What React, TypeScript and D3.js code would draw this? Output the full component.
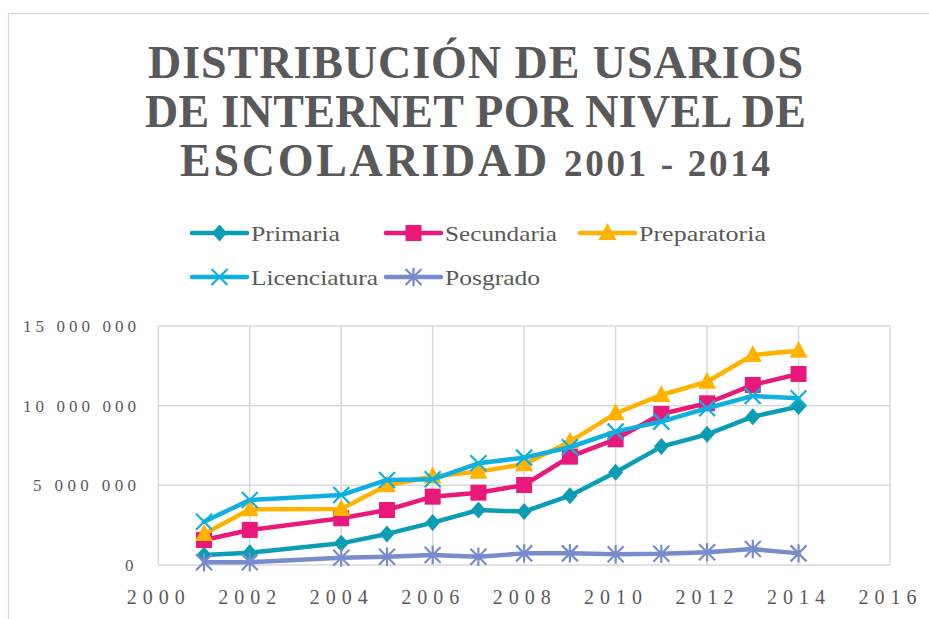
import React from 'react';
import * as d3 from 'd3';

const years = [2001, 2002, 2004, 2005, 2006, 2007, 2008, 2009, 2010, 2011, 2012, 2013, 2014];
const primaria = [630000, 770000, 1360000, 1950000, 2660000, 3450000, 3350000, 4350000, 5820000, 7430000, 8200000, 9310000, 9940000];
const secundaria = [1570000, 2200000, 2930000, 3450000, 4290000, 4540000, 5020000, 6800000, 7890000, 9480000, 10150000, 11300000, 11990000];
const preparatoria = [1950000, 3500000, 3520000, 5000000, 5550000, 5860000, 6320000, 7740000, 9520000, 10670000, 11500000, 13180000, 13450000];
const licenciatura = [2720000, 4080000, 4390000, 5340000, 5380000, 6380000, 6740000, 7390000, 8370000, 9000000, 9840000, 10610000, 10460000];
const posgrado = [170000, 170000, 460000, 520000, 630000, 520000, 730000, 730000, 670000, 700000, 800000, 1000000, 730000];

const seriesNames = ['Primaria', 'Secundaria', 'Preparatoria', 'Licenciatura', 'Posgrado'];
const seriesColors = ['#0B9DB4', '#E8197A', '#FFB300', '#0FB0DF', '#788BCA'];
const seriesMarkers = ['diamond', 'square', 'triangle', 'x', 'asterisk'];
const seriesValues = [primaria, secundaria, preparatoria, licenciatura, posgrado];

const xTicks = [2000, 2002, 2004, 2006, 2008, 2010, 2012, 2014, 2016];
const yTicks = [0, 5000000, 10000000, 15000000];
const yTickLabels = ['0', '5 000 000', '10 000 000', '15 000 000'];
const yLabelWidths = [11, 103, 113, 113];

const titleLines = ['DISTRIBUCIÓN DE USARIOS', 'DE INTERNET POR NIVEL DE', 'ESCOLARIDAD '];
const titleYears = '2001 - 2014';

const FONT = '"Liberation Serif", "Times New Roman", serif';
const TEXT = '#595959';
const GRID = '#D9D9D9';

function Marker({ type, x, y, color }: { type: string; x: number; y: number; color: string }) {
    if (type === 'diamond') {
        return <path d={`M${x},${y - 8.5}L${x + 7.5},${y}L${x},${y + 8.5}L${x - 7.5},${y}Z`} fill={color} />;
    }
    if (type === 'square') {
        return <rect x={x - 8} y={y - 8} width={16} height={16} fill={color} />;
    }
    if (type === 'triangle') {
        return <path d={`M${x},${y - 10}L${x + 9},${y + 7}L${x - 9},${y + 7}Z`} fill={color} />;
    }
    const s = 8;
    if (type === 'x') {
        return (
            <path
                d={`M${x - s},${y - s}L${x + s},${y + s}M${x - s},${y + s}L${x + s},${y - s}`}
                stroke={color}
                strokeWidth={2.2}
            />
        );
    }
    return (
        <path
            d={`M${x - s},${y - s}L${x + s},${y + s}M${x - s},${y + s}L${x + s},${y - s}M${x},${y - s * 1.15}L${x},${y + s * 1.15}`}
            stroke={color}
            strokeWidth={2.2}
        />
    );
}

export default function App() {
    const width = 929;
    const height = 619;

    const x = d3.scaleLinear().domain([2000, 2016]).range([158.3, 890]);
    const y = d3.scaleLinear().domain([0, 15000000]).range([565, 326]);

    const line = d3
        .line<number>()
        .x((d, i) => x(years[i]))
        .y((d) => y(d));

    const legendItems = [
        { i: 0, lx: 192, ly: 233, tw: 89 },
        { i: 1, lx: 386, ly: 233, tw: 112 },
        { i: 2, lx: 580, ly: 233, tw: 127 },
        { i: 3, lx: 192, ly: 277, tw: 127 },
        { i: 4, lx: 386, ly: 277, tw: 95 }
    ];

    return (
        <svg
            width={width}
            height={height}
            style={{ position: 'absolute', left: 0, top: 0, background: '#fff' }}
        >
            <rect x={8.5} y={13.5} width={1000} height={1000} fill="#fff" stroke={GRID} strokeWidth={1.3} />

            {/* title */}
            <g fill={TEXT} fontFamily={FONT} fontWeight="bold" textAnchor="middle">
                <text x={475.5} y={78} fontSize={46} textLength={655} lengthAdjust="spacing">
                    {titleLines[0]}
                </text>
                <text x={475.5} y={127} fontSize={46} textLength={661} lengthAdjust="spacing">
                    {titleLines[1]}
                </text>
                <text x={475} y={176} fontSize={46} textLength={590} lengthAdjust="spacing">
                    {titleLines[2]}
                    <tspan fontSize={37}>{titleYears}</tspan>
                </text>
            </g>

            {/* legend */}
            <g fontFamily={FONT} fontSize={21} fill={TEXT}>
                {legendItems.map((l) => (
                    <g key={l.i}>
                        <line
                            x1={l.lx}
                            x2={l.lx + 55}
                            y1={l.ly}
                            y2={l.ly}
                            stroke={seriesColors[l.i]}
                            strokeWidth={4.5}
                            strokeLinecap="round"
                        />
                        <Marker type={seriesMarkers[l.i]} x={l.lx + 27.5} y={l.ly} color={seriesColors[l.i]} />
                        <text x={l.lx + 59} y={l.ly + 8} textLength={l.tw} lengthAdjust="spacingAndGlyphs">
                            {seriesNames[l.i]}
                        </text>
                    </g>
                ))}
            </g>

            {/* grid */}
            <g stroke={GRID} strokeWidth={1.5}>
                {yTicks.map((t) => (
                    <line key={`h${t}`} x1={x(2000)} x2={x(2016)} y1={y(t)} y2={y(t)} />
                ))}
                {xTicks.map((t) => (
                    <line key={`v${t}`} x1={x(t)} x2={x(t)} y1={y(15000000)} y2={y(0)} />
                ))}
            </g>

            {/* axis labels */}
            <g fontFamily={FONT} fill={TEXT}>
                {yTicks.map((t, i) => (
                    <text
                        key={`yl${t}`}
                        x={136 - yLabelWidths[i]}
                        y={y(t) + 6}
                        fontSize={17}
                        textLength={yLabelWidths[i]}
                        lengthAdjust="spacing"
                    >
                        {yTickLabels[i]}
                    </text>
                ))}
                {xTicks.map((t) => (
                    <text
                        key={`xl${t}`}
                        x={x(t) - 2.5}
                        y={604}
                        fontSize={20}
                        textAnchor="middle"
                        textLength={58}
                        lengthAdjust="spacing"
                    >
                        {t}
                    </text>
                ))}
            </g>

            {/* series */}
            {seriesValues.map((vals, si) => (
                <g key={seriesNames[si]}>
                    <path
                        d={line(vals) || ''}
                        fill="none"
                        stroke={seriesColors[si]}
                        strokeWidth={4.5}
                        strokeLinejoin="round"
                        strokeLinecap="round"
                    />
                    {vals.map((v, i) => (
                        <Marker
                            key={i}
                            type={seriesMarkers[si]}
                            x={x(years[i])}
                            y={y(v)}
                            color={seriesColors[si]}
                        />
                    ))}
                </g>
            ))}
        </svg>
    );
}
